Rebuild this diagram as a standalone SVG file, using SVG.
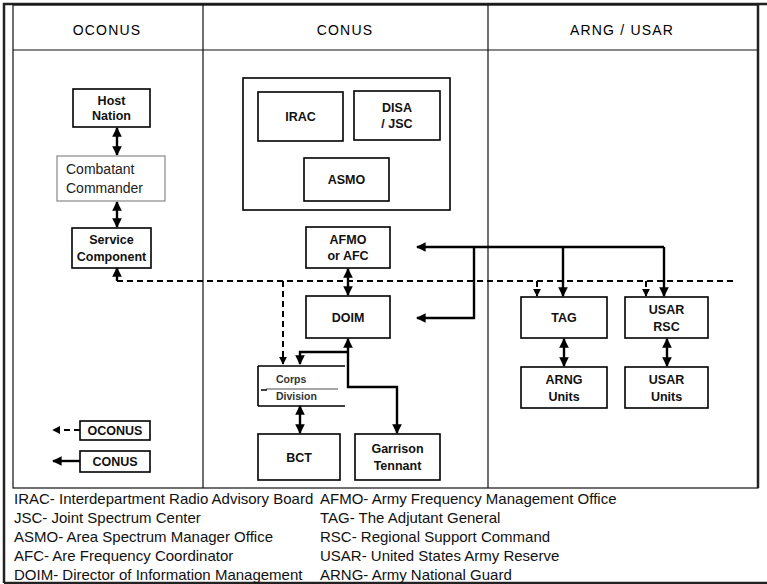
<svg xmlns="http://www.w3.org/2000/svg" width="767" height="584" viewBox="0 0 767 584">
<defs>
<marker id="ah" viewBox="0 0 10 10" refX="9" refY="5" markerWidth="4" markerHeight="4" orient="auto-start-reverse" markerUnits="strokeWidth"><path d="M0,0 L10,5 L0,10 z" fill="#000"/></marker>
<style>
.frame{fill:none;stroke:#222;stroke-width:2.5}
.grid{fill:none;stroke:#111;stroke-width:1.2}
.box{fill:#fff;stroke:#000;stroke-width:1.6}
.gbox{fill:#fff;stroke:#888;stroke-width:1.2}
.hd{font-family:"Liberation Sans",Arial,sans-serif;font-size:14px;letter-spacing:1.2px;fill:#000;text-anchor:middle}
.nt{font-family:"Liberation Sans",Arial,sans-serif;font-size:12.5px;font-weight:bold;fill:#111;text-anchor:middle}
.cd{font-family:"Liberation Sans",Arial,sans-serif;font-size:10.5px;font-weight:bold;fill:#333}
.rt{font-family:"Liberation Sans",Arial,sans-serif;font-size:14px;fill:#222}
.lg{font-family:"Liberation Sans",Arial,sans-serif;font-size:15px;fill:#111}
.s{fill:none;stroke:#000;stroke-width:2.4}
.d{fill:none;stroke:#000;stroke-width:2;stroke-dasharray:6,4}
.a{marker-end:url(#ah)}
.aa{marker-end:url(#ah);marker-start:url(#ah)}
</style>
</defs>
<rect width="767" height="584" fill="#fff"/>
<g id="frame">
<path class="frame" d="M4,583 V4 H767"/>
<path class="frame" d="M4,583 H767"/>
<rect class="grid" x="13" y="5" width="745" height="483"/>
<path class="grid" d="M13,50 H758 M203,5 V488 M488,5 V488"/>
<path d="M758,5 V488" stroke="#222" stroke-width="2.5"/>
<text class="hd" x="107" y="35">OCONUS</text>
<text class="hd" x="345" y="35">CONUS</text>
<text class="hd" x="622" y="35">ARNG / USAR</text>
</g>
<g id="connectors">
<path class="s aa" d="M117,128 V155"/>
<path class="s aa" d="M117,202 V227"/>
<path class="d" d="M117,281 H735"/>
<path class="s a" d="M117,281 V268"/>
<path class="d a" d="M283,281 V364"/>
<path class="d a" d="M537,281 V296"/>
<path class="d a" d="M646,281 V296"/>
<path class="s a" d="M664,247 H417"/>
<path class="s a" d="M563,247 V296"/>
<path class="s a" d="M664,247 V296"/>
<path class="s a" d="M474,247 V318 H417"/>
<path class="s aa" d="M348,269 V295"/>
<path class="s a" d="M348,371 V339"/>
<path class="s a" d="M348,352 H300 V364"/>
<path class="s a" d="M348,371 V387 H397 V433"/>
<path class="s aa" d="M300,406 V433"/>
<path class="s aa" d="M564,339 V366"/>
<path class="s aa" d="M667,339 V366"/>
<path class="d a" d="M80,430 H53"/>
<path class="s a" d="M80,461 H53"/>
</g>
<g id="host-nation"><rect class="box" x="73" y="89" width="77" height="38"/><text class="nt" x="111.5" y="105">Host</text><text class="nt" x="111.5" y="120">Nation</text></g>
<g id="combatant-commander"><rect class="gbox" x="57" y="156" width="108" height="45"/><text class="rt" x="66" y="174">Combatant</text><text class="rt" x="66" y="193">Commander</text></g>
<g id="service-component"><rect class="box" x="72" y="228" width="79" height="40"/><text class="nt" x="111.5" y="244">Service</text><text class="nt" x="111.5" y="261">Component</text></g>
<g id="spectrum-group"><rect class="box" x="243" y="78" width="207" height="132"/></g>
<g id="irac"><rect class="box" x="258" y="92" width="85" height="49"/><text class="nt" x="300.5" y="121">IRAC</text></g>
<g id="disa-jsc"><rect class="box" x="354" y="91" width="86" height="49"/><text class="nt" x="397" y="112">DISA</text><text class="nt" x="397" y="128">/ JSC</text></g>
<g id="asmo"><rect class="box" x="304" y="158" width="85" height="43"/><text class="nt" x="346.5" y="184">ASMO</text></g>
<g id="afmo-afc"><rect class="box" x="306" y="227" width="84" height="41"/><text class="nt" x="348" y="244">AFMO</text><text class="nt" x="348" y="260">or AFC</text></g>
<g id="doim"><rect class="box" x="306" y="296" width="84" height="42"/><text class="nt" x="348" y="322">DOIM</text></g>
<g id="corps-division"><path d="M258,366 V406 M258,366 H345 M258,406 H345" fill="none" stroke="#000" stroke-width="1.6"/><path d="M266,389 H338" stroke="#888" stroke-width="1.5"/><path d="M261,390 H267" stroke="#000" stroke-width="1.5"/><text class="cd" x="276" y="383">Corps</text><text class="cd" x="276" y="400">Division</text></g>
<g id="bct"><rect class="box" x="258" y="434" width="82" height="46"/><text class="nt" x="299" y="462">BCT</text></g>
<g id="garrison-tennant"><rect class="box" x="355" y="434" width="85" height="46"/><text class="nt" x="397.5" y="453">Garrison</text><text class="nt" x="397.5" y="470">Tennant</text></g>
<g id="tag"><rect class="box" x="521" y="297" width="86" height="41"/><text class="nt" x="564" y="322">TAG</text></g>
<g id="usar-rsc"><rect class="box" x="625" y="297" width="83" height="41"/><text class="nt" x="666.5" y="314">USAR</text><text class="nt" x="666.5" y="331">RSC</text></g>
<g id="arng-units"><rect class="box" x="521" y="367" width="86" height="41"/><text class="nt" x="564" y="384">ARNG</text><text class="nt" x="564" y="401">Units</text></g>
<g id="usar-units"><rect class="box" x="625" y="367" width="83" height="41"/><text class="nt" x="666.5" y="384">USAR</text><text class="nt" x="666.5" y="401">Units</text></g>
<g id="key-oconus"><rect class="box" x="80" y="421" width="70" height="19"/><text class="nt" x="115" y="435">OCONUS</text></g>
<g id="key-conus"><rect class="box" x="80" y="451" width="70" height="21"/><text class="nt" x="115" y="466">CONUS</text></g>
<g id="legend">
<text class="lg" x="14" y="504">IRAC- Interdepartment Radio Advisory Board</text>
<text class="lg" x="14" y="523">JSC- Joint Spectrum Center</text>
<text class="lg" x="14" y="542">ASMO- Area Spectrum Manager Office</text>
<text class="lg" x="14" y="561">AFC- Are Frequency Coordinator</text>
<text class="lg" x="14" y="580">DOIM- Director of Information Management</text>
<text class="lg" x="320" y="504">AFMO- Army Frequency Management Office</text>
<text class="lg" x="320" y="523">TAG- The Adjutant General</text>
<text class="lg" x="320" y="542">RSC- Regional Support Command</text>
<text class="lg" x="320" y="561">USAR- United States Army Reserve</text>
<text class="lg" x="320" y="580">ARNG- Army National Guard</text>
</g>
</svg>
